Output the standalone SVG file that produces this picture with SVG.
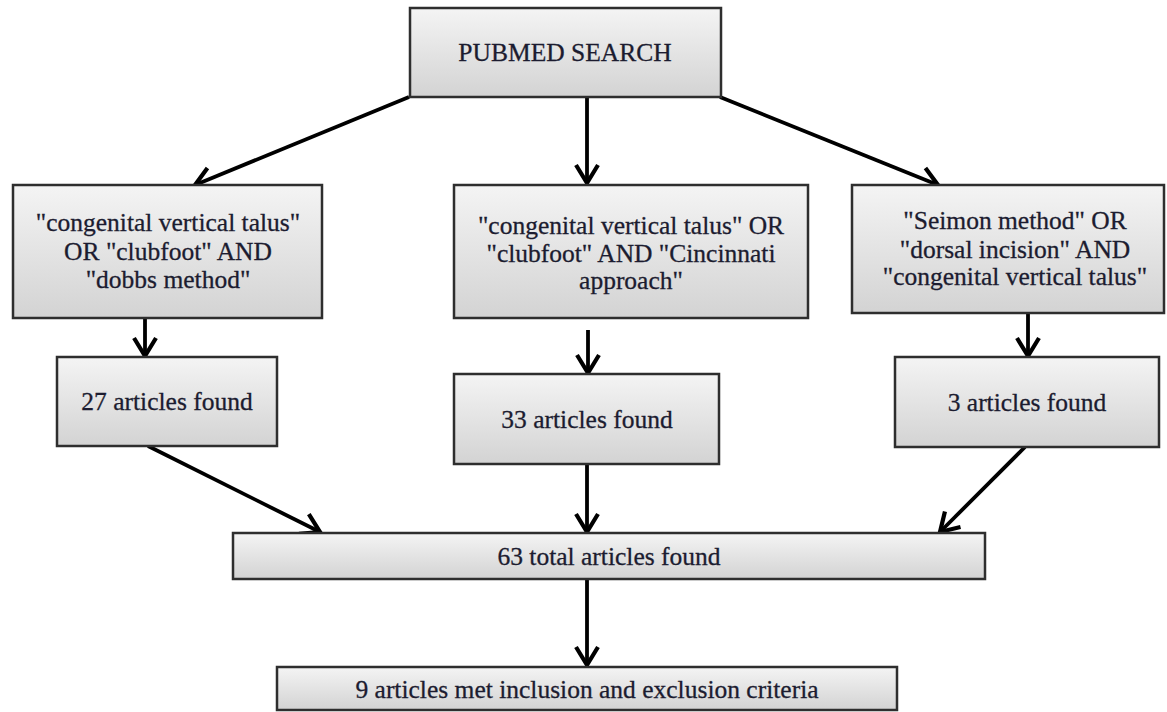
<svg xmlns="http://www.w3.org/2000/svg" width="1167" height="712" viewBox="0 0 1167 712">
<style>
.box{fill:url(#g);stroke:#2e2e2e;stroke-width:2.5}
.t{font-family:"Liberation Serif","Times New Roman",serif;font-size:25.5px;fill:#1c1c30;text-anchor:middle;stroke:#1c1c30;stroke-width:0.3}
.c{stroke:#000;stroke-width:3.8;fill:none;marker-end:url(#a)}
</style>
<defs>
<linearGradient id="g" x1="0" y1="0" x2="0" y2="1">
<stop offset="0" stop-color="#f4f4f4"/>
<stop offset="1" stop-color="#d3d3d3"/>
</linearGradient>
<marker id="a" viewBox="0 0 28 28" refX="23" refY="14" markerWidth="28" markerHeight="28" markerUnits="userSpaceOnUse" orient="auto">
<polyline points="5,3 23,14 5,25" fill="none" stroke="#000" stroke-width="4.2" stroke-linejoin="miter"/>
</marker>
</defs>
<g id="connectors">
<line class="c" x1="409" y1="97" x2="195" y2="185"/>
<line class="c" x1="587" y1="97" x2="587" y2="183"/>
<line class="c" x1="720" y1="97" x2="938" y2="185"/>
<line class="c" x1="145" y1="318" x2="145" y2="356"/>
<line class="c" x1="588" y1="330" x2="588" y2="373"/>
<line class="c" x1="1028" y1="313" x2="1028" y2="356"/>
<line class="c" x1="148" y1="446" x2="320" y2="532"/>
<line class="c" x1="587" y1="464" x2="587" y2="532"/>
<line class="c" x1="1025" y1="447" x2="940" y2="532"/>
<line class="c" x1="587" y1="579" x2="587" y2="665"/>
</g>
<g id="pubmed">
<rect class="box" x="410" y="8" width="311" height="89"/>
<text class="t" x="565" y="61">PUBMED SEARCH</text>
</g>
<g id="query1">
<rect class="box" x="13" y="185" width="309" height="133"/>
<text class="t" x="168" y="231">"congenital vertical talus"</text>
<text class="t" x="168" y="260">OR "clubfoot" AND</text>
<text class="t" x="168" y="288">"dobbs method"</text>
</g>
<g id="query2">
<rect class="box" x="454" y="185" width="354" height="133"/>
<text class="t" x="631" y="234">"congenital vertical talus" OR</text>
<text class="t" x="631" y="262">"clubfoot" AND "Cincinnati</text>
<text class="t" x="631" y="289">approach"</text>
</g>
<g id="query3">
<rect class="box" x="852" y="185" width="312" height="128"/>
<text class="t" x="1015" y="229">"Seimon method" OR</text>
<text class="t" x="1015" y="258">"dorsal incision" AND</text>
<text class="t" x="1015" y="285">"congenital vertical talus"</text>
</g>
<g id="found27">
<rect class="box" x="57" y="357" width="220" height="89"/>
<text class="t" x="167" y="410">27 articles found</text>
</g>
<g id="found33">
<rect class="box" x="454" y="374" width="265" height="90"/>
<text class="t" x="587" y="428">33 articles found</text>
</g>
<g id="found3">
<rect class="box" x="895" y="357" width="264" height="90"/>
<text class="t" x="1027" y="411">3 articles found</text>
</g>
<g id="total63">
<rect class="box" x="233" y="533" width="752" height="46"/>
<text class="t" x="609" y="565">63 total articles found</text>
</g>
<g id="final9">
<rect class="box" x="277" y="667" width="620" height="43"/>
<text class="t" x="587" y="698">9 articles met inclusion and exclusion criteria</text>
</g>
</svg>
